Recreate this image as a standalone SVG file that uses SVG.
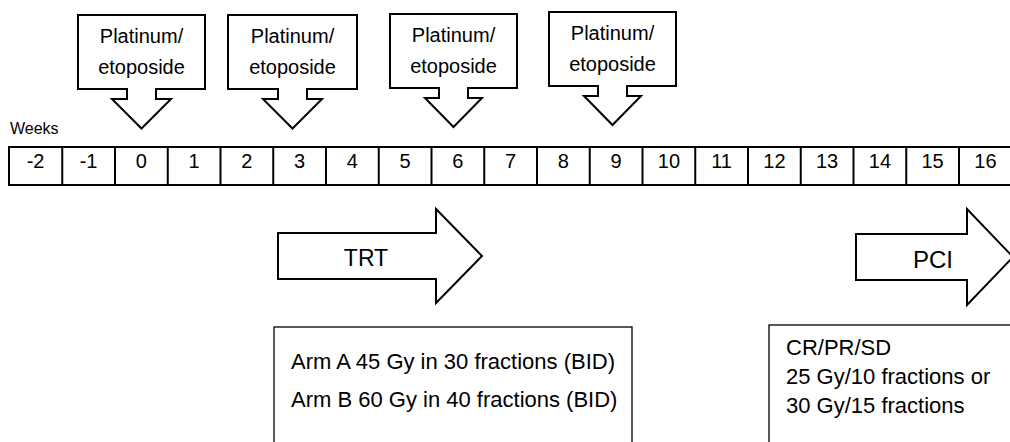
<svg xmlns="http://www.w3.org/2000/svg" width="1010" height="442" viewBox="0 0 1010 442">
<style>
text{font-family:"Liberation Sans",Arial,sans-serif;fill:#000}
.co{fill:#fff;stroke:#000;stroke-width:2;stroke-linejoin:miter}
.ct{font-size:20px;text-anchor:middle}
.tl{fill:#fff;stroke:#000;stroke-width:2}
.dv{stroke:#000;stroke-width:2}
.num{font-size:20px;text-anchor:middle}
.big{fill:#fff;stroke:#000;stroke-width:2}
.box{fill:#fff;stroke:#000;stroke-width:1.3}
.bt{font-size:22px}
</style>
<rect width="1010" height="442" fill="#fff"/>

<g id="callout-1">
<path class="co" d="M78,15 H205 V89 H156 V99 H171 L141.5,128.5 L112,99 H127 V89 H78 Z"/>
<text class="ct" x="141.5" y="43">Platinum/</text>
<text class="ct" x="141.5" y="74">etoposide</text>
</g>
<g id="callout-2">
<path class="co" d="M228,15 H357 V89 H307 V99 H322 L292.5,128.5 L263,99 H278 V89 H228 Z"/>
<text class="ct" x="292.5" y="43">Platinum/</text>
<text class="ct" x="292.5" y="74">etoposide</text>
</g>
<g id="callout-3">
<path class="co" d="M390,14 H517 V88 H468 V98 H482 L453.5,127 L425,98 H439 V88 H390 Z"/>
<text class="ct" x="453.5" y="42">Platinum/</text>
<text class="ct" x="453.5" y="73">etoposide</text>
</g>
<g id="callout-4">
<path class="co" d="M549,12 H676 V86 H627 V96 H641 L612.5,125 L584,96 H598 V86 H549 Z"/>
<text class="ct" x="612.5" y="40">Platinum/</text>
<text class="ct" x="612.5" y="71">etoposide</text>
</g>

<g id="weeks-label">
<text x="10" y="134" font-size="16">Weeks</text>
</g>

<g id="timeline">
<rect class="tl" x="9" y="147" width="1003" height="38"/>
<path class="dv" d="M62.25,147V185M115,147V185M167.75,147V185M220.5,147V185M273.25,147V185M326,147V185M378.75,147V185M431.5,147V185M484.25,147V185M537,147V185M589.75,147V185M642.5,147V185M695.25,147V185M748,147V185M800.75,147V185M853.5,147V185M906.25,147V185M959,147V185"/>
<text class="num" x="35.6" y="168">-2</text>
<text class="num" x="88.6" y="168">-1</text>
<text class="num" x="141.4" y="168">0</text>
<text class="num" x="194.1" y="168">1</text>
<text class="num" x="246.9" y="168">2</text>
<text class="num" x="299.6" y="168">3</text>
<text class="num" x="352.4" y="168">4</text>
<text class="num" x="405.1" y="168">5</text>
<text class="num" x="457.9" y="168">6</text>
<text class="num" x="510.6" y="168">7</text>
<text class="num" x="563.4" y="168">8</text>
<text class="num" x="616.1" y="168">9</text>
<text class="num" x="668.9" y="168">10</text>
<text class="num" x="721.6" y="168">11</text>
<text class="num" x="774.4" y="168">12</text>
<text class="num" x="827.1" y="168">13</text>
<text class="num" x="879.9" y="168">14</text>
<text class="num" x="932.6" y="168">15</text>
<text class="num" x="985.4" y="168">16</text>
</g>

<g id="trt">
<path class="big" d="M278,233 H436 V209 L482,256 L436,303 V279 H278 Z"/>
<text x="366" y="266" font-size="23" text-anchor="middle">TRT</text>
</g>
<g id="pci">
<path class="big" d="M856,234 H967 V209 L1013,257 L967,305 V280 H856 Z"/>
<text x="933" y="268" font-size="24" text-anchor="middle">PCI</text>
</g>

<g id="trt-box">
<rect class="box" x="274" y="327" width="358" height="130"/>
<text class="bt" x="291" y="369">Arm A 45 Gy in 30 fractions (BID)</text>
<text class="bt" x="291" y="407">Arm B 60 Gy in 40 fractions (BID)</text>
</g>
<g id="pci-box">
<rect class="box" x="769" y="325" width="260" height="130"/>
<text class="bt" x="786" y="355">CR/PR/SD</text>
<text class="bt" x="786" y="384">25 Gy/10 fractions or</text>
<text class="bt" x="786" y="413">30 Gy/15 fractions</text>
</g>
</svg>
